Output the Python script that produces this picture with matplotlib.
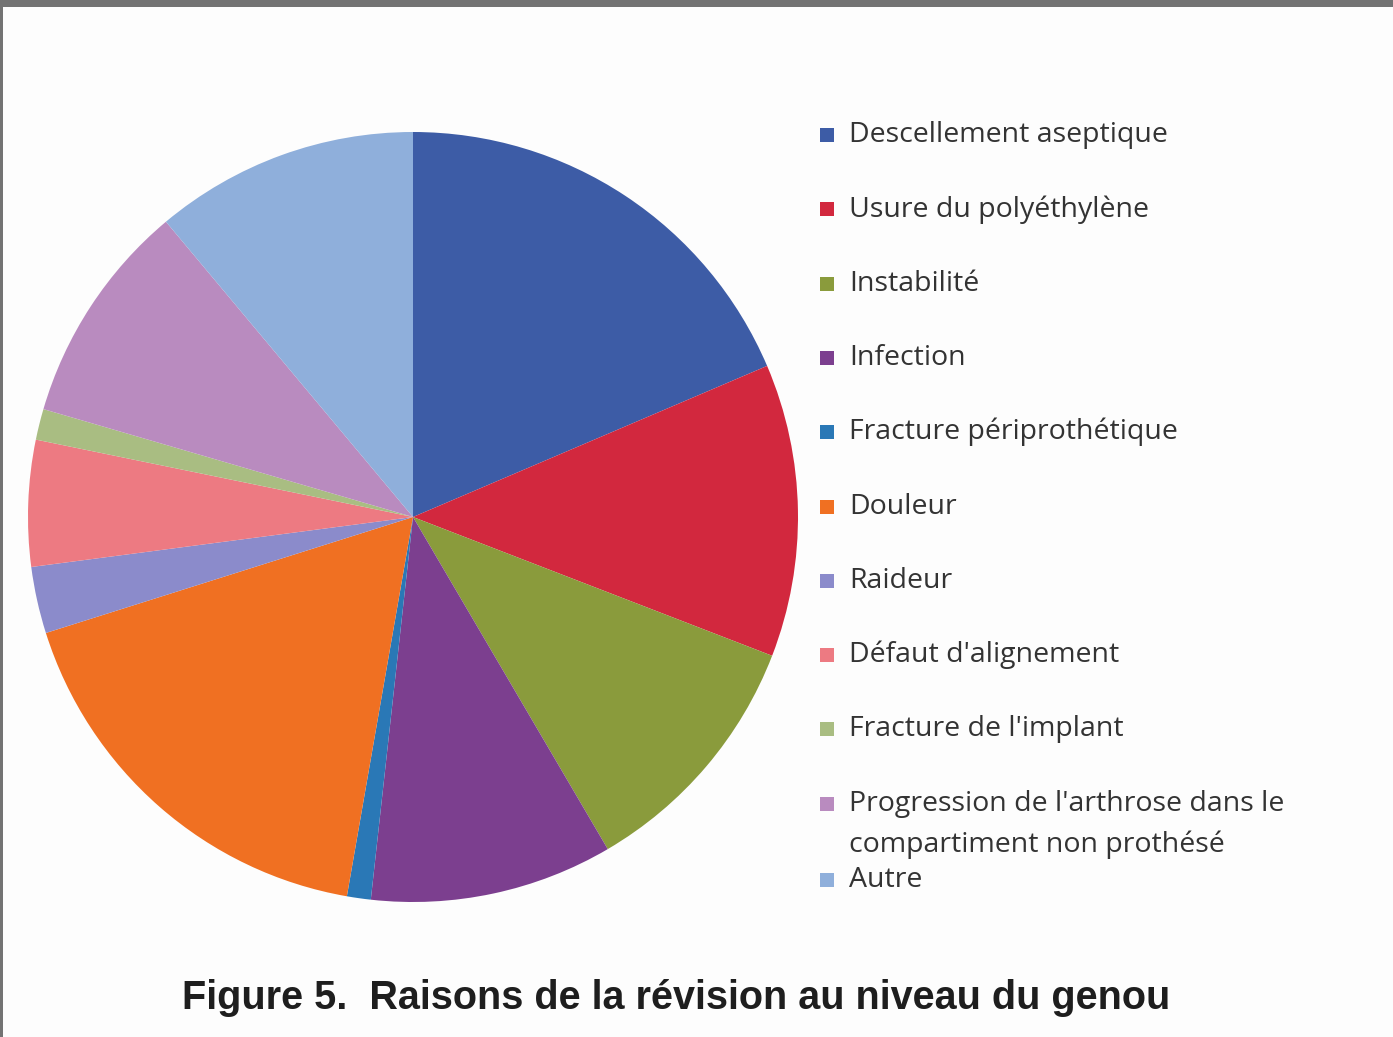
"""Pie chart: reasons for knee revision (Figure 5)."""

import matplotlib.pyplot as plt
from matplotlib.patches import Rectangle

# Data (share of revisions, %)
labels = [
    "Descellement aseptique",
    "Usure du polyéthylène",
    "Instabilité",
    "Infection",
    "Fracture périprothétique",
    "Douleur",
    "Raideur",
    "Défaut d'alignement",
    "Fracture de l'implant",
    "Progression de l'arthrose dans le\ncompartiment non prothésé",
    "Autre",
]
values = [18.6, 12.3, 10.7, 10.2, 1.0, 17.4, 2.8, 5.3, 1.3, 9.4, 11.1]
colors = [
    "#3d5ca6", "#d2283e", "#8a9b3c", "#7c3f8f", "#2a78b6", "#f07022",
    "#8b8bcb", "#ed7a82", "#a9bd82", "#b98bbf", "#8fafdb",
]
title = "Figure 5.  Raisons de la révision au niveau du genou"

W, H = 1393, 1037
fig = plt.figure(figsize=(W / 100, H / 100), dpi=100)
fig.patch.set_facecolor("#fdfdfd")

# scanner border
fig.add_artist(Rectangle((0, 1 - 7 / H), 1, 7 / H, transform=fig.transFigure,
                         color="#737373", lw=0))
fig.add_artist(Rectangle((0, 0), 3 / W, 1, transform=fig.transFigure,
                         color="#737373", lw=0))

# pie: centre ~(413, 517) px, radius ~385 px
cx, cy, r = 413, 517, 385
ax = fig.add_axes([(cx - r) / W, 1 - (cy + r) / H, 2 * r / W, 2 * r / H])
wedges, _ = ax.pie(values, colors=colors, startangle=90, counterclock=False,
                   radius=1, wedgeprops=dict(linewidth=0))
ax.set_xlim(-1, 1)
ax.set_ylim(-1, 1)
ax.set_aspect("equal")
ax.axis("off")

# legend, placed by hand to keep the original uneven spacing
leg_y = [135 + i * 74.3 for i in range(len(labels) - 1)] + [880]
for lab, col, y in zip(labels, colors, leg_y):
    fig.add_artist(Rectangle((820 / W, 1 - (y + 7) / H), 14 / W, 14 / H,
                             transform=fig.transFigure, color=col, lw=0))
    for k, line in enumerate(lab.split("\n")):
        fig.text(849 / W, 1 - (y + 41 * k) / H, line, family="Open Sans",
                 fontsize=20.5, color="#333333", va="center")

fig.text(182 / W, 1 - 998 / H, title, family="Liberation Sans",
         fontweight="bold", fontsize=28.5, color="#1e1e1e", va="center")

fig.savefig("out.png", dpi=100, facecolor=fig.get_facecolor())
